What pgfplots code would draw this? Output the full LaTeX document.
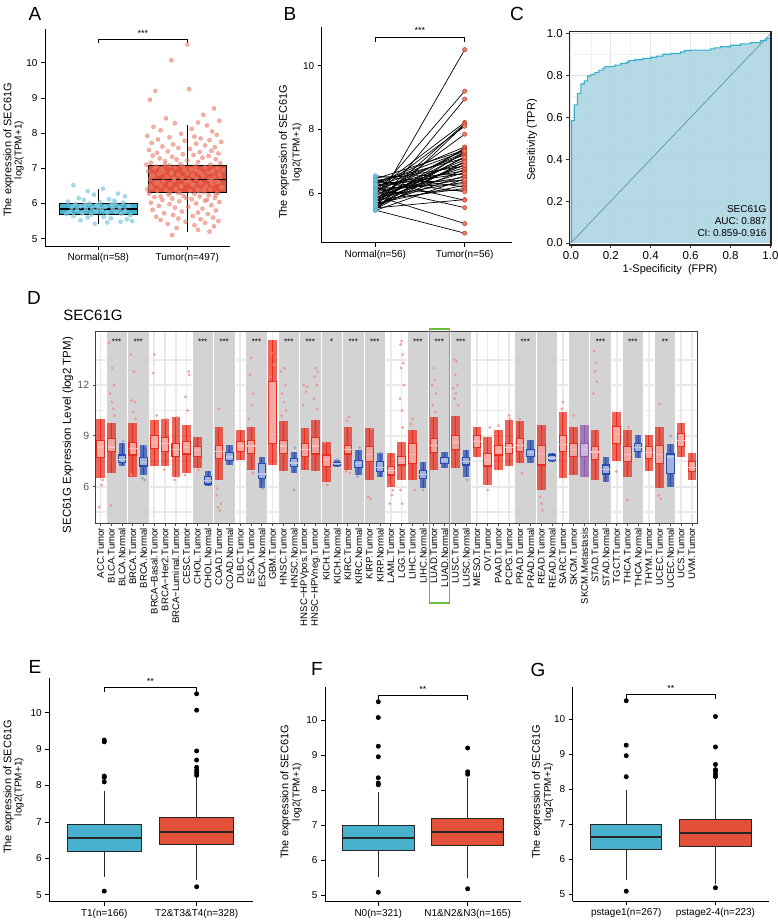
\documentclass[border=0pt]{standalone}
\usepackage{fontspec}
\setmainfont{Liberation Sans}
\setsansfont{Liberation Sans}
\usepackage{pgfplots}
\usepackage{pgfplotstable}
\pgfplotsset{compat=1.18}
\usepgfplotslibrary{statistics}

\definecolor{tealc}{RGB}{72,177,206}
\definecolor{redc}{RGB}{226,80,57}
\definecolor{dred}{RGB}{232,45,30}
\definecolor{dblue}{RGB}{38,76,176}
\definecolor{dpurp}{RGB}{142,90,170}
\definecolor{bandc}{RGB}{211,211,211}
\definecolor{rocfill}{RGB}{168,212,226}
\definecolor{rocline}{RGB}{58,174,203}
\definecolor{lgreen}{RGB}{108,190,64}

\pgfplotsset{
  boxplot/draw direction=y,
  simplebox/.style={
    scale only axis, anchor=south west, clip=false,
    axis lines*=left,
    axis line style={line width=0.8pt},
    tick align=outside, major tick length=4pt,
    tick style={line width=0.8pt, black},
    tick label style={font=\fontsize{10}{12}\selectfont},
    xtick={1,2},
  },
}

% one TIMER category: position, lower whisker, q1, median, q3, upper whisker, colour, cloud width
\newcommand{\dbox}[8]{%
  \addplot[boxplot/every box/.style={draw=none, fill=#7, fill opacity=0.72},
    boxplot/every whisker/.style={draw=none}, boxplot/every median/.style={draw=none},
    boxplot prepared={draw position=#1, lower whisker=#2, lower quartile=#2, median=#4,
      upper quartile=#6, upper whisker=#6, box extend=#8, whisker extend=0}] coordinates {};
  \addplot[draw=#7, line width=1.1pt, fill=white, fill opacity=0.45,
    boxplot/every whisker/.style={line width=0.9pt},
    boxplot/every median/.style={draw=#7!30!white, line width=1.2pt},
    boxplot prepared={draw position=#1, lower whisker=#2, lower quartile=#3, median=#4,
      upper quartile=#5, upper whisker=#6, box extend=0.7, whisker extend=0}] coordinates {};
}
\newcommand{\tb}[6]{\dbox{#1}{#2}{#3}{#4}{#5}{#6}{dred}{0.8}}
\newcommand{\nb}[6]{\dbox{#1}{#2}{#3}{#4}{#5}{#6}{dblue}{0.6}}
\newcommand{\band}[2]{\addplot[fill=bandc, draw=white, line width=0.8pt] coordinates {(#1,3)(#2,3)(#2,16)(#1,16)} -- cycle;}
\newcommand{\sig}[2]{\node[font=\fontsize{8}{8}\selectfont] at (axis cs:#1,14.55) {#2};}

\pgfplotstableread{
n t
5.62 10.50
5.95 9.20
5.55 8.95
6.10 8.22
5.70 8.18
5.48 8.15
6.02 8.10
5.80 7.85
6.30 7.45
5.66 7.42
5.90 7.38
6.45 7.35
5.52 7.30
6.05 7.28
5.75 7.25
6.20 7.20
5.60 7.15
6.35 7.10
5.85 7.05
5.50 7.00
6.12 6.95
5.72 6.90
6.40 6.85
5.98 6.80
5.58 6.75
6.25 6.70
5.82 6.65
6.50 6.60
5.64 6.55
6.08 6.50
5.46 6.45
6.32 6.40
5.88 6.35
6.15 6.30
5.68 6.25
6.55 6.20
5.78 6.15
6.00 6.10
6.38 6.05
5.54 5.80
6.42 5.78
6.18 5.55
5.92 5.05
5.47 4.75
5.86 6.88
6.22 6.62
5.76 7.12
6.05 6.42
5.60 6.98
6.28 7.32
}\Bpairs

\begin{document}
\begin{tikzpicture}
\path[use as bounding box] (0,0) rectangle (778pt,-921pt);

% ---------------- panel letters and titles
\foreach \l/\x/\y in {A/35/13.5, B/290/13.5, C/517/13.5, D/34/298, E/35/667, F/317/669, G/538/670}
  \node[font=\fontsize{19}{19}\selectfont] at (\x pt,-\y pt) {\l};
\node[font=\fontsize{15}{15}\selectfont] at (93pt,-315pt) {SEC61G};

% y labels of the two-line kind
\foreach \xa/\xb/\y in {8.5/19/150, 284/297/152, 8.5/19/787, 285.5/297/792, 537/548.5/792}{
  \node[rotate=90, font=\fontsize{11}{11}\selectfont] at (\xa pt,-\y pt) {The expression of SEC61G};
  \node[rotate=90, font=\fontsize{10}{10}\selectfont] at (\xb pt,-\y pt) {log2(TPM+1)};
}

% ---------------- A
\begin{axis}[simplebox, at={(45pt,-246pt)}, width=185pt, height=217pt,
  xmin=0.4, xmax=2.48, ymin=4.79, ymax=10.96,
  ytick={5,6,7,8,9,10}, yticklabels={5,6,7,8,9,10},
  xticklabels={Normal(n=58),Tumor(n=497)}]
\addplot[fill=tealc, draw=black, line width=0.9pt,
  boxplot/every median/.style={line width=1.8pt},
  boxplot prepared={draw position=1, lower whisker=5.42, lower quartile=5.7, median=5.85,
    upper quartile=6.0, upper whisker=6.42, box extend=0.88, whisker extend=0}] coordinates {};
\addplot[fill=redc, draw=black, line width=0.9pt,
  boxplot/every median/.style={line width=1.8pt},
  boxplot prepared={draw position=2, lower whisker=5.2, lower quartile=6.3, median=6.68,
    upper quartile=7.08, upper whisker=8.22, box extend=0.88, whisker extend=0}] coordinates {};
\addplot[only marks, mark=*, mark size=2.1pt, color=tealc!65!white, opacity=0.75] coordinates {
(0.72,6.52)(1.05,6.42)(0.88,6.35)(1.22,6.28)(0.95,6.25)(1.3,6.2)(0.78,6.15)(1.12,6.12)(0.84,6.1)(1.18,6.08)
(0.66,6.05)(1.02,6.03)(1.28,6.02)(0.9,6.0)(0.74,5.98)(1.15,5.97)(0.98,5.95)(1.34,5.93)(0.8,5.92)(1.08,5.9)
(0.7,5.88)(1.24,5.87)(0.93,5.86)(1.16,5.85)(0.86,5.84)(1.04,5.83)(0.76,5.82)(1.3,5.8)(0.97,5.78)(1.2,5.77)
(0.68,5.76)(1.1,5.74)(0.82,5.72)(1.26,5.7)(0.92,5.68)(1.36,5.66)(0.72,5.64)(1.06,5.62)(0.88,5.6)(1.14,5.58)
(1.32,5.55)(0.8,5.52)(1.25,5.48)(1.1,5.46)(0.96,5.42)(1.38,5.5)(0.64,5.7)(1.0,5.88)(1.19,6.0)(0.85,5.96)};
\addplot[only marks, mark=*, mark size=2.1pt, color=redc!75!white, opacity=0.6] coordinates {
(2.0,10.52)(1.82,10.07)(1.64,9.2)(2.02,9.25)(1.58,8.95)(2.3,8.7)(2.18,8.52)(2.36,8.35)(1.76,8.42)(2.12,8.3)
(1.86,8.28)(2.22,8.22)(1.62,8.18)(2.05,8.12)(1.7,8.08)(2.28,8.05)(1.93,7.98)(2.33,7.95)(1.55,7.92)(2.08,7.9)
(1.8,7.88)(2.15,7.85)(1.67,7.82)(2.25,7.8)(1.97,7.78)(2.38,7.75)(1.6,7.72)(2.1,7.7)(1.84,7.68)(2.2,7.65)
(1.72,7.62)(2.31,7.6)(1.9,7.58)(2.03,7.55)(1.57,7.52)(2.27,7.5)(1.78,7.48)(2.14,7.46)(1.66,7.44)(2.35,7.42)
(1.95,7.4)(2.07,7.38)(1.61,7.36)(2.24,7.35)(1.83,7.33)(2.17,7.3)(1.69,7.28)(2.32,7.26)(1.88,7.25)(2.0,7.22)
(1.75,7.2)(2.12,7.18)(1.59,7.16)(2.37,7.15)(1.92,7.12)(2.26,7.1)(1.8,7.08)(2.09,7.06)(1.65,7.05)(2.2,7.03)
(1.86,7.02)(2.34,7.0)(1.71,6.98)(2.04,6.97)(1.97,6.95)(2.29,6.93)(1.56,6.92)(2.13,6.9)(1.82,6.88)(2.23,6.87)
(1.68,6.85)(2.36,6.84)(1.9,6.82)(2.06,6.8)(1.62,6.78)(2.18,6.77)(1.77,6.75)(2.3,6.74)(1.94,6.72)(2.1,6.7)
(1.58,6.69)(2.25,6.68)(1.85,6.66)(2.02,6.65)(1.73,6.63)(2.33,6.62)(1.98,6.6)(2.15,6.58)(1.64,6.57)(2.28,6.55)
(1.81,6.54)(2.07,6.52)(1.7,6.5)(2.21,6.49)(1.93,6.47)(2.38,6.46)(1.6,6.44)(2.11,6.42)(1.87,6.41)(2.26,6.4)
(1.76,6.38)(2.03,6.36)(1.66,6.35)(2.19,6.33)(1.89,6.31)(2.34,6.3)(1.57,6.28)(2.08,6.27)(1.79,6.25)(2.24,6.23)
(1.96,6.21)(2.14,6.2)(1.63,6.18)(2.31,6.16)(1.83,6.14)(2.05,6.12)(1.72,6.1)(2.2,6.08)(1.91,6.06)(2.36,6.04)
(1.59,6.02)(2.1,6.0)(1.8,5.98)(2.27,5.95)(1.68,5.93)(2.01,5.9)(1.86,5.88)(2.17,5.85)(1.61,5.82)(2.32,5.8)
(1.94,5.77)(2.12,5.74)(1.74,5.72)(2.23,5.7)(1.84,5.67)(2.06,5.64)(1.65,5.62)(2.29,5.6)(1.9,5.57)(2.15,5.55)
(1.7,5.53)(2.35,5.5)(1.98,5.48)(2.2,5.45)(1.78,5.42)(2.08,5.38)(2.3,5.35)(1.88,5.3)(2.12,5.25)(2.25,5.2)(1.83,5.1)
(1.54,7.1)(1.95,7.05)(2.4,6.95)(1.73,6.9)(2.16,6.85)(1.6,6.8)(2.37,6.75)(1.85,6.7)(2.27,6.65)(1.67,6.6)
(2.05,6.55)(1.93,6.5)(2.4,6.45)(1.55,6.4)(2.13,6.35)(1.8,6.3)(2.32,6.25)(1.7,6.2)(1.99,6.15)(2.22,6.1)
(1.63,7.0)(2.09,6.95)(1.82,6.85)(2.35,6.6)(1.58,6.5)(2.18,6.4)(1.92,6.3)(2.28,6.9)(1.75,7.1)(2.0,6.85)};
\addplot[black, line width=0.7pt] coordinates {(1,10.55)(1,10.66)(2,10.66)(2,10.55)};
\node[font=\fontsize{9}{9}\selectfont] at (axis cs:1.5,10.83) {***};
\end{axis}

% ---------------- B
\begin{axis}[simplebox, at={(321.7pt,-242.7pt)}, width=190.3pt, height=216pt,
  xmin=0.4, xmax=2.53, ymin=4.45, ymax=11.22,
  ytick={6,8,10}, yticklabels={6,8,10},
  xticklabels={Normal(n=56),Tumor(n=56)}]
\addplot[black, line width=0.7pt, quiver={u=1, v=\thisrow{t}-\thisrow{n}}] table[x expr=1, y=n] {\Bpairs};
\addplot[only marks, mark=*, mark size=2.1pt, mark options={fill=tealc!80!white, draw=tealc}] table[x expr=1, y=n] {\Bpairs};
\addplot[only marks, mark=*, mark size=2.1pt, mark options={fill=redc!70!white, draw=redc!85!black, line width=0.6pt}] table[x expr=2, y=t] {\Bpairs};
\addplot[black, line width=0.7pt] coordinates {(1,10.75)(1,10.89)(2,10.89)(2,10.75)};
\node[font=\fontsize{9}{9}\selectfont] at (axis cs:1.5,11.09) {***};
\end{axis}

% ---------------- C
\begin{axis}[scale only axis, anchor=south west, at={(569.3pt,-245pt)}, width=201.7pt, height=213.3pt,
  xmin=-0.008, xmax=1.003, ymin=-0.01, ymax=1.01,
  xtick={0,0.2,0.4,0.6,0.8,1}, xticklabels={0.0,0.2,0.4,0.6,0.8,1.0},
  ytick={0,0.2,0.4,0.6,0.8,1}, yticklabels={0.0,0.2,0.4,0.6,0.8,1.0},
  minor xtick={0.1,0.3,0.5,0.7,0.9}, minor ytick={0.1,0.3,0.5,0.7,0.9},
  grid=both, major grid style={gray!22, line width=0.9pt}, minor grid style={gray!12, line width=0.6pt},
  tick pos=left, tick align=outside, major tick length=3pt, minor tick length=0pt,
  tick style={black!80, line width=0.8pt},
  axis line style={black!85, line width=1.2pt},
  tick label style={font=\fontsize{11.5}{12}\selectfont}]
\addplot[fill=rocfill, fill opacity=0.85, draw=none] coordinates {
(0.003,0)(0.003,0.585)(0.017,0.585)(0.017,0.66)(0.033,0.66)(0.033,0.715)(0.05,0.715)(0.05,0.76)
(0.067,0.76)(0.067,0.775)(0.084,0.775)(0.084,0.798)(0.1,0.798)(0.1,0.805)(0.12,0.805)(0.12,0.815)
(0.14,0.815)(0.14,0.826)(0.16,0.826)(0.16,0.835)(0.17,0.835)(0.17,0.843)(0.22,0.843)(0.22,0.85)
(0.25,0.85)(0.25,0.858)(0.28,0.858)(0.28,0.864)(0.29,0.864)(0.29,0.872)(0.32,0.872)(0.32,0.876)
(0.36,0.876)(0.36,0.882)(0.4,0.882)(0.4,0.888)(0.43,0.888)(0.43,0.893)(0.46,0.893)(0.46,0.902)
(0.5,0.902)(0.5,0.906)(0.55,0.906)(0.55,0.913)(0.57,0.913)(0.57,0.92)(0.6,0.92)(0.6,0.922)
(0.7,0.922)(0.7,0.928)(0.72,0.928)(0.72,0.933)(0.75,0.933)(0.75,0.938)(0.8,0.938)(0.8,0.945)
(0.85,0.945)(0.85,0.952)(0.9,0.952)(0.9,0.958)(0.95,0.958)(0.95,0.968)(0.98,0.968)(0.98,0.976)(1,0.98)} \closedcycle;
\addplot[gray!55!rocline, line width=0.7pt] coordinates {(0,0)(1,1)};
\addplot[rocline, line width=1.1pt] coordinates {
(0.003,0)(0.003,0.585)(0.017,0.585)(0.017,0.66)(0.033,0.66)(0.033,0.715)(0.05,0.715)(0.05,0.76)
(0.067,0.76)(0.067,0.775)(0.084,0.775)(0.084,0.798)(0.1,0.798)(0.1,0.805)(0.12,0.805)(0.12,0.815)
(0.14,0.815)(0.14,0.826)(0.16,0.826)(0.16,0.835)(0.17,0.835)(0.17,0.843)(0.22,0.843)(0.22,0.85)
(0.25,0.85)(0.25,0.858)(0.28,0.858)(0.28,0.864)(0.29,0.864)(0.29,0.872)(0.32,0.872)(0.32,0.876)
(0.36,0.876)(0.36,0.882)(0.4,0.882)(0.4,0.888)(0.43,0.888)(0.43,0.893)(0.46,0.893)(0.46,0.902)
(0.5,0.902)(0.5,0.906)(0.55,0.906)(0.55,0.913)(0.57,0.913)(0.57,0.92)(0.6,0.92)(0.6,0.922)
(0.7,0.922)(0.7,0.928)(0.72,0.928)(0.72,0.933)(0.75,0.933)(0.75,0.938)(0.8,0.938)(0.8,0.945)
(0.85,0.945)(0.85,0.952)(0.9,0.952)(0.9,0.958)(0.95,0.958)(0.95,0.968)(0.98,0.968)(0.98,0.976)(1,0.98)};
\node[anchor=north east, align=right, font=\fontsize{10}{12}\selectfont] at (rel axis cs:0.995,0.2) {SEC61G\\AUC: 0.887\\CI: 0.859-0.916};
\coordinate (csw) at (rel axis cs:0,0);
\coordinate (cne) at (rel axis cs:1,1);
\end{axis}
\draw[black!85, line width=1.2pt] (csw) rectangle (cne);
\node[rotate=90, font=\fontsize{11}{11}\selectfont] at (532pt,-140pt) {Sensitivity (TPR)};
\node[font=\fontsize{11}{11}\selectfont] at (670pt,-270pt) {1-Specificity\ \ (FPR)};

% ---------------- D
\begin{axis}[scale only axis, anchor=south west, at={(95.7pt,-523.3pt)}, width=601.6pt, height=191.6pt,
  xmin=0.55, xmax=56.5, ymin=3.84, ymax=15.15,
  xtick={1,...,56},
  xticklabels={ACC.Tumor,BLCA.Tumor,BLCA.Normal,BRCA.Tumor,BRCA.Normal,BRCA−Basal.Tumor,BRCA−Her2.Tumor,BRCA−Luminal.Tumor,CESC.Tumor,CHOL.Tumor,CHOL.Normal,COAD.Tumor,COAD.Normal,DLBC.Tumor,ESCA.Tumor,ESCA.Normal,GBM.Tumor,HNSC.Tumor,HNSC.Normal,HNSC−HPVpos.Tumor,HNSC−HPVneg.Tumor,KICH.Tumor,KICH.Normal,KIRC.Tumor,KIRC.Normal,KIRP.Tumor,KIRP.Normal,LAML.Tumor,LGG.Tumor,LIHC.Tumor,LIHC.Normal,LUAD.Tumor,LUAD.Normal,LUSC.Tumor,LUSC.Normal,MESO.Tumor,OV.Tumor,PAAD.Tumor,PCPG.Tumor,PRAD.Tumor,PRAD.Normal,READ.Tumor,READ.Normal,SARC.Tumor,SKCM.Tumor,SKCM.Metastasis,STAD.Tumor,STAD.Normal,TGCT.Tumor,THCA.Tumor,THCA.Normal,THYM.Tumor,UCEC.Tumor,UCEC.Normal,UCS.Tumor,UVM.Tumor},
  xticklabel style={rotate=90, anchor=east, font=\fontsize{9.6}{10}\selectfont, inner sep=1.5pt},
  ytick={6,9,12}, yticklabels={6,9,12},
  yticklabel style={font=\fontsize{10.5}{11}\selectfont, text=black!65},
  minor ytick={4.5,7.5,10.5,13.5},
  xmajorgrids, ymajorgrids, yminorgrids,
  major grid style={gray!17, line width=1.7pt}, minor grid style={gray!17, line width=1.7pt},
  tick pos=left, tick align=outside, major tick length=3pt, minor tick length=0pt,
  tick style={black!70, line width=0.8pt},
  axis line style={black!75, line width=1.3pt}]
\band{1.5}{3.5}\band{3.5}{5.5}\band{9.5}{11.5}\band{11.5}{13.5}\band{14.5}{16.5}
\band{17.5}{19.5}\band{19.5}{21.5}\band{21.5}{23.5}\band{23.5}{25.5}\band{25.5}{27.5}
\band{29.5}{31.5}\band{31.5}{33.5}\band{33.5}{35.5}\band{39.5}{41.5}\band{41.5}{43.5}
\band{44.5}{46.5}\band{46.5}{48.5}\band{49.5}{51.5}\band{52.5}{54.5}
% scattered sample points outside the dense clouds
\addplot[only marks, mark=*, mark size=1.2pt, color=dred!55!white, opacity=0.7] coordinates {
(0.9,4.8)(1.2,6.4)(1.1,6.1)
(1.8,14.5)(2.1,13.0)(2.25,12.0)(1.9,11.5)(2.05,11.0)(2.2,10.6)(1.95,4.9)(2.3,10.2)
(3.8,13.8)(4.1,12.8)(4.2,11.0)(3.9,11.1)(4.05,10.4)(4.25,10.0)(3.85,6.7)
(6.0,13.8)(5.9,12.7)(6.2,10.2)(7.1,10.0)(6.9,7.0)(8.1,10.1)(7.9,6.4)(8.2,6.6)
(9.2,12.8)(9.25,12.6)(8.9,11.3)(9.1,10.5)(8.85,6.7)(10.1,7.0)
(12.0,10.6)(11.8,5.5)(12.2,5.0)(11.9,4.8)(12.1,4.6)(11.85,5.9)
(15.0,13.6)(14.9,12.6)(15.2,11.5)(15.1,10.8)(14.8,10.0)(15.15,6.8)
(17.2,14.6)(16.9,13.9)(17.1,13.2)(16.8,12.5)
(18.1,13.0)(17.8,12.8)(18.2,12.0)(17.9,11.5)(18.05,11.0)(18.25,10.5)(17.85,10.2)
(19.9,12.0)(20.2,11.9)(20.1,11.6)(19.85,10.8)
(21.0,13.0)(21.2,12.8)(20.9,12.5)(21.1,12.0)(20.85,11.2)(21.15,10.6)
(22.1,6.1)(21.9,8.6)(24.1,10.1)(23.9,9.9)(24.2,6.8)(23.85,6.9)
(25.9,5.4)(26.1,5.3)(26.2,9.4)(27.9,5.0)(28.1,5.5)(28.2,5.8)(27.85,6.1)
(29.0,14.6)(28.9,14.4)(29.1,13.8)(29.15,13.3)(28.95,13.0)(29.2,12.0)(28.85,11.2)(29.05,10.5)(29.1,9.5)(28.9,5.8)(29.05,5.0)
(30.0,10.0)(29.85,9.7)(30.2,5.8)
(32.0,13.0)(32.1,12.3)(31.85,12.0)(32.2,11.5)(31.9,10.8)(32.15,10.4)
(33.9,13.5)(34.1,13.4)(34.0,12.6)(34.2,12.0)(33.8,11.8)(34.05,11.5)(33.95,11.2)(34.25,10.8)
(37.0,5.8)(37.2,9.5)(38.0,9.6)(39.0,10.2)(39.1,10.0)(40.0,10.0)(40.2,6.8)
(42.0,5.0)(42.1,4.6)(41.9,5.4)(44.0,11.0)(43.9,10.6)(45.0,10.2)
(46.9,14.0)(47.1,13.3)(47.0,12.8)(47.15,12.2)(46.85,11.5)
(49.0,6.9)(50.0,5.2)(50.1,9.5)(53.0,10.9)(52.9,5.5)(53.1,5.3)};
\addplot[only marks, mark=*, mark size=1.2pt, color=dblue!55!white, opacity=0.7] coordinates {
(3.1,8.7)(5.2,8.4)(4.9,6.5)(5.1,6.4)(16.1,5.9)(19.0,5.8)(19.1,8.3)(23.0,7.6)
(25.1,8.3)(24.9,6.6)(27.0,8.0)(31.0,5.8)(35.1,6.4)(54.0,9.0)};
\tb{1}{6.5}{7.71}{8.35}{8.75}{10.0}
\tb{2}{6.8}{8.07}{8.35}{8.85}{9.75}
\nb{3}{7.2}{7.42}{7.6}{7.87}{8.6}
\tb{4}{6.6}{7.87}{8.25}{8.6}{9.75}
\nb{5}{6.7}{7.22}{7.45}{7.73}{8.45}
\tb{6}{7.2}{8.27}{8.6}{9.0}{9.95}
\tb{7}{7.2}{8.1}{8.55}{8.9}{10.0}
\tb{8}{6.6}{7.8}{8.2}{8.55}{10.1}
\tb{9}{6.8}{7.93}{8.3}{8.65}{9.65}
\tb{10}{7.1}{7.77}{8.15}{8.4}{8.95}
\nb{11}{6.05}{6.16}{6.35}{6.59}{6.9}
\tb{12}{6.4}{7.67}{8.1}{8.45}{9.55}
\nb{13}{7.3}{7.53}{7.75}{8.0}{8.45}
\tb{14}{7.57}{8.07}{8.4}{8.65}{9.35}
\tb{15}{7.0}{7.97}{8.4}{8.75}{9.55}
\nb{16}{5.9}{6.5}{6.75}{7.38}{7.77}
\tb{17}{7.28}{8.56}{9.1}{12.2}{14.65}
\tb{18}{6.9}{7.97}{8.4}{8.75}{9.85}
\nb{19}{6.8}{7.18}{7.4}{7.67}{8.05}
\tb{20}{7.0}{7.77}{8.2}{8.55}{9.45}
\tb{21}{6.9}{7.93}{8.4}{8.9}{9.95}
\tb{22}{6.3}{7.18}{7.6}{7.87}{8.65}
\nb{23}{7.15}{7.26}{7.35}{7.42}{7.57}
\tb{24}{7.0}{7.93}{8.2}{8.45}{9.55}
\nb{25}{6.7}{7.15}{7.35}{7.57}{8.15}
\tb{26}{6.4}{7.47}{7.9}{8.36}{9.45}
\nb{27}{6.6}{6.88}{7.15}{7.47}{7.97}
\tb{28}{6.0}{6.69}{6.95}{7.18}{7.97}
\tb{29}{6.4}{7.28}{7.55}{7.8}{8.65}
\tb{30}{6.4}{7.38}{7.9}{8.55}{9.35}
\nb{31}{5.9}{6.5}{6.7}{6.98}{7.47}
\tb{32}{7.0}{8.0}{8.45}{8.85}{10.1}
\nb{33}{7.1}{7.38}{7.55}{7.7}{8.05}
\tb{34}{7.1}{8.2}{8.6}{9.0}{10.2}
\nb{35}{6.6}{7.28}{7.5}{7.73}{8.15}
\tb{36}{7.77}{8.33}{8.65}{9.0}{9.55}
\tb{37}{6.1}{7.22}{7.55}{7.97}{8.95}
\tb{38}{7.0}{7.87}{8.15}{8.45}{9.35}
\tb{39}{7.2}{7.97}{8.3}{8.55}{9.95}
\tb{40}{7.4}{8.1}{8.45}{8.85}{9.85}
\nb{41}{7.4}{7.77}{8.0}{8.2}{8.75}
\tb{42}{5.8}{7.28}{7.95}{8.45}{9.65}
\nb{43}{7.45}{7.53}{7.7}{7.87}{7.97}
\tb{44}{6.5}{8.1}{8.5}{9.0}{10.4}
\tb{45}{6.7}{7.77}{8.2}{8.55}{9.55}
\dbox{46}{6.6}{7.77}{8.2}{8.55}{9.65}{dpurp}{0.8}
\tb{47}{6.4}{7.6}{8.05}{8.4}{9.35}
\nb{48}{6.3}{6.75}{7.0}{7.28}{7.77}
\tb{49}{7.5}{8.56}{9.1}{9.55}{10.4}
\tb{50}{6.6}{7.47}{7.9}{8.36}{9.35}
\nb{51}{7.67}{8.07}{8.3}{8.55}{9.05}
\tb{52}{6.9}{7.67}{8.0}{8.36}{9.05}
\tb{53}{5.9}{7.38}{7.9}{8.45}{9.55}
\nb{54}{6.0}{6.79}{7.75}{7.93}{8.55}
\tb{55}{7.77}{8.36}{8.75}{9.15}{9.75}
\tb{56}{6.4}{6.88}{7.15}{7.47}{7.97}
\sig{2.5}{***}\sig{4.5}{***}\sig{10.5}{***}\sig{12.5}{***}\sig{15.5}{***}\sig{18.5}{***}
\sig{20.5}{***}\sig{22.5}{*}\sig{24.5}{***}\sig{26.5}{***}\sig{30.5}{***}\sig{32.5}{***}
\sig{34.5}{***}\sig{40.5}{***}\sig{47.5}{***}\sig{50.5}{***}\sig{53.5}{**}
\coordinate (dsw) at (rel axis cs:0,0);
\coordinate (dne) at (rel axis cs:1,1);
\coordinate (g1) at (axis cs:31.58,15.31);
\coordinate (g2) at (axis cs:33.46,-0.87);
\end{axis}
\draw[black!75, line width=1.3pt] (dsw) rectangle (dne);
\draw[lgreen, line width=1.3pt] (g1) rectangle (g2);
\node[rotate=90, font=\fontsize{11.5}{12}\selectfont] at (68pt,-435pt) {SEC61G Expression Level (log2 TPM)};

% ---------------- E
\begin{axis}[simplebox, at={(49.3pt,-901.7pt)}, width=203.7pt, height=223.4pt,
  xmin=0.405, xmax=2.61, ymin=4.81, ymax=10.945,
  ytick={5,6,7,8,9,10}, yticklabels={5,6,7,8,9,10},
  xticklabels={T1(n=166),T2\&T3\&T4(n=328)}]
\addplot[fill=tealc, draw=black!85, line width=0.9pt, mark=*, mark size=2pt, mark options={fill=black, draw=black},
  boxplot/every median/.style={line width=2.2pt},
  boxplot prepared={draw position=1, lower whisker=5.5, lower quartile=6.2, median=6.55,
    upper quartile=6.93, upper whisker=7.85, box extend=0.8, whisker extend=0}]
  coordinates {(0,5.1)(0,8.1)(0,8.22)(0,8.26)(0,9.2)(0,9.25)};
\addplot[fill=redc, draw=black!85, line width=0.9pt, mark=*, mark size=2pt, mark options={fill=black, draw=black},
  boxplot/every median/.style={line width=2.2pt},
  boxplot prepared={draw position=2, lower whisker=5.4, lower quartile=6.37, median=6.73,
    upper quartile=7.12, upper whisker=8.2, box extend=0.8, whisker extend=0}]
  coordinates {(0,5.22)(0,8.28)(0,8.35)(0,8.42)(0,8.5)(0,8.7)(0,8.95)(0,10.07)(0,10.52)};
\addplot[black, line width=0.7pt] coordinates {(1,10.58)(1,10.69)(2,10.69)(2,10.58)};
\node[font=\fontsize{9}{9}\selectfont] at (axis cs:1.5,10.86) {**};
\end{axis}

% ---------------- F
\begin{axis}[simplebox, at={(325pt,-901.7pt)}, width=196.3pt, height=215pt,
  xmin=0.404, xmax=2.6, ymin=4.81, ymax=10.95,
  ytick={5,6,7,8,9,10}, yticklabels={5,6,7,8,9,10},
  xticklabels={N0(n=321),N1\&N2\&N3(n=165)}]
\addplot[fill=tealc, draw=black!85, line width=0.9pt, mark=*, mark size=2pt, mark options={fill=black, draw=black},
  boxplot/every median/.style={line width=2.2pt},
  boxplot prepared={draw position=1, lower whisker=5.52, lower quartile=6.27, median=6.63,
    upper quartile=7.0, upper whisker=7.95, box extend=0.8, whisker extend=0}]
  coordinates {(0,5.08)(0,8.15)(0,8.2)(0,8.35)(0,8.95)(0,9.25)(0,10.07)(0,10.52)};
\addplot[fill=redc, draw=black!85, line width=0.9pt, mark=*, mark size=2pt, mark options={fill=black, draw=black},
  boxplot/every median/.style={line width=2.2pt},
  boxplot prepared={draw position=2, lower whisker=5.5, lower quartile=6.43, median=6.8,
    upper quartile=7.2, upper whisker=8.35, box extend=0.8, whisker extend=0}]
  coordinates {(0,5.18)(0,8.45)(0,8.52)(0,9.2)};
\addplot[black, line width=0.7pt] coordinates {(1,10.58)(1,10.69)(2,10.69)(2,10.58)};
\node[font=\fontsize{9}{9}\selectfont] at (axis cs:1.5,10.86) {**};
\end{axis}

% ---------------- G
\begin{axis}[simplebox, at={(572.7pt,-901pt)}, width=196.3pt, height=214.3pt,
  xmin=0.4, xmax=2.6, ymin=4.8, ymax=10.92,
  ytick={5,6,7,8,9,10}, yticklabels={5,6,7,8,9,10},
  xticklabels={pstage1(n=267),pstage2-4(n=223)}]
\addplot[fill=tealc, draw=black!85, line width=0.9pt, mark=*, mark size=2pt, mark options={fill=black, draw=black},
  boxplot/every median/.style={line width=2.2pt},
  boxplot prepared={draw position=1, lower whisker=5.4, lower quartile=6.26, median=6.63,
    upper quartile=7.0, upper whisker=7.97, box extend=0.8, whisker extend=0}]
  coordinates {(0,5.08)(0,8.35)(0,8.95)(0,9.25)(0,10.52)};
\addplot[fill=redc, draw=black!85, line width=0.9pt, mark=*, mark size=2pt, mark options={fill=black, draw=black},
  boxplot/every median/.style={line width=2.2pt},
  boxplot prepared={draw position=2, lower whisker=5.3, lower quartile=6.37, median=6.75,
    upper quartile=7.13, upper whisker=8.3, box extend=0.8, whisker extend=0}]
  coordinates {(0,5.18)(0,8.35)(0,8.42)(0,8.5)(0,8.55)(0,8.7)(0,9.2)(0,10.07)};
\addplot[black, line width=0.7pt] coordinates {(1,10.58)(1,10.69)(2,10.69)(2,10.58)};
\node[font=\fontsize{9}{9}\selectfont] at (axis cs:1.5,10.86) {**};
\end{axis}
\end{tikzpicture}
\end{document}
